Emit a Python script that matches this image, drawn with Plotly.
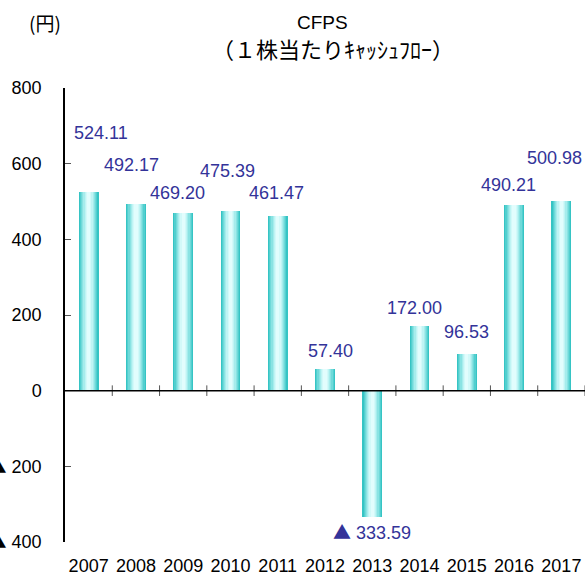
import plotly.graph_objects as go

# Cash flow per share by fiscal year (yen)
years = ["2007", "2008", "2009", "2010", "2011", "2012",
         "2013", "2014", "2015", "2016", "2017"]
cfps = [524.11, 492.17, 469.20, 475.39, 461.47, 57.40,
        -333.59, 172.00, 96.53, 490.21, 500.98]

# Value-axis ticks; negatives are written with a leading triangle
TRI = '<span style="font-family:Noto Sans CJK JP">▲</span>'
y_ticks = [800, 600, 400, 200, 0, -200, -400]
y_tick_text = ["800", "600", "400", "200", "0", TRI + " 200", TRI + " 400"]

# Label placement nudges (pixels) for each bar's value label
label_dx = [12, -4, -6, -3, -1, 5, 0, -5, 0, -6, -7]
label_dy = [59, 39, 20, 40, 23, 18, -14, 18, 22, 20, 43]

LABEL_COLOR = "#333399"
FONT = "Liberation Sans, Arial, sans-serif"
JP_FONT = "Noto Sans CJK JP, sans-serif"

fig = go.Figure()

# Cylinder-like shading: stacked overlaid bars, narrowing and lightening
widths = [0.42, 0.37, 0.32, 0.27, 0.22, 0.17, 0.12, 0.07]
shades = ["#36c4c4", "#52cfcf", "#6fd9d9", "#8ae3e3",
          "#a6ecec", "#bff4f4", "#d3f9f9", "#e2fdfd"]
for w, c in zip(widths, shades):
    fig.add_trace(go.Bar(
        x=years, y=cfps, width=w,
        marker=dict(color=c, line=dict(width=0)),
        hoverinfo="skip", showlegend=False,
    ))


def fmt(v):
    return f"{v:.2f}" if v >= 0 else f"{TRI} {abs(v):.2f}"


for i, (v, dx, dy) in enumerate(zip(cfps, label_dx, label_dy)):
    fig.add_annotation(
        x=i, y=v, text=fmt(v), showarrow=False,
        xanchor="center", yanchor="middle",
        xshift=dx, yshift=dy,
        font=dict(family=FONT, size=18, color=LABEL_COLOR),
    )

# Category separators crossing the zero line
for i in range(len(years)):
    fig.add_shape(
        type="line", xref="x", yref="y",
        x0=i + 0.5, x1=i + 0.5, y0=-14, y1=14,
        line=dict(color="#555555", width=1),
    )

# Zero baseline
fig.add_shape(
    type="line", xref="paper", yref="y",
    x0=0, x1=1, y0=0, y1=0,
    line=dict(color="black", width=1.5),
)

# Titles
fig.add_annotation(
    xref="paper", yref="paper", x=0.5, y=1, yshift=66, xshift=-3,
    text="CFPS", showarrow=False, xanchor="center", yanchor="middle",
    font=dict(family=FONT, size=19, color="black"),
)
fig.add_annotation(
    xref="paper", yref="paper", x=0.5, y=1, yshift=40, xshift=8,
    text="（１株当たりｷｬｯｼｭﾌﾛｰ）", showarrow=False,
    xanchor="center", yanchor="middle",
    font=dict(family=JP_FONT, size=22, color="black"),
)
fig.add_annotation(
    xref="paper", yref="paper", x=0, y=1, xshift=-20, yshift=66,
    text="(円)", showarrow=False, xanchor="center", yanchor="middle",
    font=dict(family=JP_FONT, size=19, color="black"),
)

fig.update_layout(
    width=585, height=575,
    margin=dict(l=65, r=0, t=88, b=33, autoexpand=False),
    paper_bgcolor="white", plot_bgcolor="white",
    barmode="overlay", bargap=0,
    showlegend=False,
    xaxis=dict(
        type="category", showgrid=False, zeroline=False, showline=False,
        ticks="outside", ticklen=7, tickcolor="rgba(0,0,0,0)",
        tickfont=dict(family=FONT, size=18, color="black"),
        range=[-0.5, len(years) - 0.5], automargin=False,
    ),
    yaxis=dict(
        range=[-400, 800], tickvals=y_ticks, ticktext=y_tick_text,
        showgrid=False, zeroline=False,
        showline=True, linecolor="black", linewidth=1.5,
        ticks="inside", ticklen=6, tickcolor="#555555",
        ticklabelstandoff=18, automargin=False,
        tickfont=dict(family=FONT, size=18, color="black"),
    ),
)

fig.write_html("out.html")
